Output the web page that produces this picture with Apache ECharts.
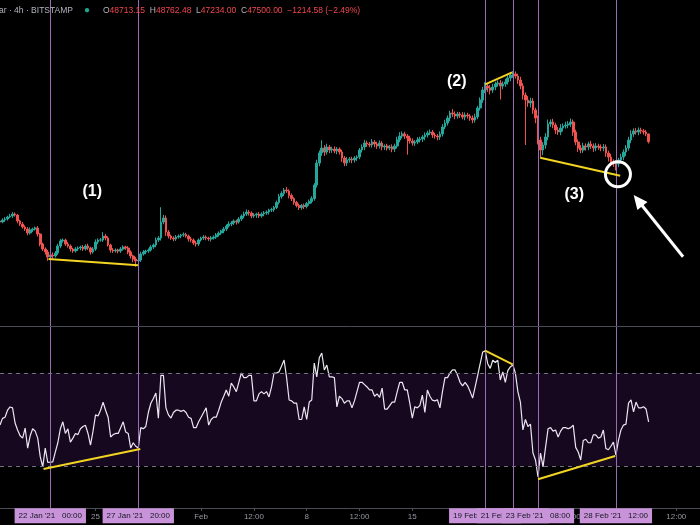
<!DOCTYPE html>
<html><head><meta charset="utf-8">
<script src="https://cdn.jsdelivr.net/npm/echarts@6/dist/echarts.min.js"></script>
<style>html,body{margin:0;padding:0;background:#000;}#c{width:700px;height:525px;}</style>
</head><body><div id="c"></div>
<script>
// ---- data (4h BTC/USD candles) ----
const firstOpen = 35180;
const closes = [
35025,35336,35492,35803,35958,36269,36114,35181,34714,34248,
33937,33315,33781,33937,34092,33159,31604,30827,30360,29583,
29894,29738,30205,31293,32071,32226,31604,31293,30827,30516,
30827,30982,31138,30827,31293,30982,30360,30827,31915,32226,
32226,32848,32537,31449,30671,30516,30671,30516,30827,31138,
30982,30360,29738,29272,28961,29116,30049,30360,30516,30671,
31138,31449,32226,32537,35025,35647,33470,32848,32537,32382,
32693,32848,33004,33100,32848,32382,32226,31760,31604,32226,
32537,32693,32537,32382,32537,32693,33004,33315,33626,33937,
34403,34714,34870,35181,35025,35492,35958,36269,36580,36425,
35958,36114,36269,35958,36269,36425,36580,36891,36950,37282,
38059,38992,39459,40001,39846,39148,38681,38059,37593,37282,
37593,37437,37904,38215,38681,40779,44200,45755,46532,45910,
46688,46221,46377,46066,46377,45910,44977,44200,44666,44822,
44666,44977,45133,46221,46688,47310,47154,46999,47465,47154,
46843,47310,46688,46843,46532,46688,46377,46843,47776,48398,
48709,48398,48087,47621,47310,47465,47776,47932,48243,48554,
48865,49020,48554,48398,48243,48709,49798,50420,51197,51975,
51819,51508,51819,51664,51353,51664,51508,51197,50886,51353,
52752,53996,55551,56173,55862,55551,56018,56484,56640,56173,
56484,56795,57417,57884,58039,57728,57106,56173,54774,53996,
53530,53841,52441,51197,47776,46221,46999,48243,50264,50575,
50109,49331,49020,49642,49953,50109,50264,50575,49020,47465,
46532,46221,46843,46688,47154,46843,46532,46843,46688,46532,
46688,45755,45133,44355,44200,44044,44666,45133,45910,46532,
47776,48709,49176,49020,49331,49180,49020,48713,47500];
const wickUp = [
200,250,300,200,350,300,250,150,200,300,
250,300,400,200,250,300,150,200,250,300,
250,400,300,350,300,250,200,300,250,200,
300,250,200,300,250,350,200,300,400,250,
300,600,300,250,200,300,250,200,300,250,
200,300,250,200,300,250,350,300,200,250,
300,250,400,300,2300,500,400,300,200,250,
300,250,200,300,250,200,300,250,300,250,
200,300,250,200,300,250,300,250,200,300,
250,400,300,250,200,300,250,350,400,300,
250,300,200,300,250,300,250,200,300,250,
300,400,350,300,450,250,300,200,250,300,
250,300,250,300,350,300,500,400,1200,450,
500,300,350,400,300,250,350,300,450,300,
350,300,250,300,400,500,350,300,450,300,
350,400,300,250,350,300,400,350,500,600,
400,350,300,350,400,300,450,350,300,400,
350,400,300,350,300,400,450,500,400,350,
600,400,350,300,450,400,350,300,400,500,
350,400,500,600,400,450,500,350,400,450,
400,500,450,350,470,400,350,500,450,400,
600,500,450,350,400,500,450,600,700,400,
500,350,450,600,400,500,450,550,400,350,
400,450,500,400,350,500,400,450,350,400,
450,400,350,500,400,450,350,500,400,450,
500,600,400,450,400,350,300,300,49];
const wickDown = [
250,200,300,250,200,300,250,350,300,250,
300,350,250,300,250,400,350,300,400,600,
300,350,250,300,350,250,300,250,400,300,
250,300,350,300,250,300,400,250,300,350,
250,300,350,250,400,300,250,350,300,250,
300,350,400,500,900,400,300,250,350,300,
250,300,350,300,400,350,600,400,300,350,
300,250,350,300,250,400,350,300,400,300,
250,300,350,300,400,250,300,250,300,350,
300,250,350,300,400,250,300,350,300,400,
350,300,450,300,250,350,300,400,300,350,
250,300,350,400,300,450,400,350,300,400,
350,400,300,350,300,350,400,500,450,600,
400,500,450,350,500,400,600,500,450,400,
500,400,450,350,400,500,450,350,400,500,
450,400,500,450,400,350,500,450,400,350,
400,450,2600,400,400,450,350,400,450,500,
400,350,450,400,500,450,400,350,400,500,
450,500,400,450,350,500,400,450,500,400,
350,400,450,500,600,700,450,500,400,2100,
500,450,400,500,450,400,600,500,700,7000,
600,700,600,800,700,1200,800,600,500,450,
500,600,450,500,550,400,500,450,600,500,
600,500,450,550,500,450,600,500,450,500,
500,600,700,550,600,1000,500,450,500,600,
400,500,450,400,500,450,400,350,266];
const rsi = [
47.6,50.5,51,54,55.4,55,48.5,45.5,43,42,
46.3,37.7,43,46,45,42,34,29.6,37.7,31.5,
31.7,31.8,36,40,46,49,44,46,40.3,42,
44,43.5,46,47,47.5,44,39,45,52,51.5,
54,57.5,54,51,42.5,43.5,44,44,46.5,49,
44.6,44,37.7,40,38.5,37.7,46.5,46,47,53,
57,59,61.4,50.6,69,69,55,52,50.6,53,
54,54,53.5,54,53,51,50.5,46.5,46.5,49,
51,53,55,47.6,50,51,51,54,57.5,60,
62.7,60,65.7,64,62,66,70,68,68,69,
69,58,58,61,62,61,62,59.7,64,70,
70,70.5,73,75.6,68,58.4,58,57,57,50,
50,55.4,50,57.5,58.4,74.3,68.3,76.5,78.6,71.3,
73.4,68.3,68.3,68,55.4,60,59,57,58,58,
55,58,62,66,66,65,64,62.7,62.7,60,
61,59.5,63.5,54.5,54.5,56,57.5,57.5,62,66,
66,62.7,62.7,57,50.6,55.5,55,56,60.5,53,
62.7,60,58.3,58,58.5,55,62,68,68,70,
71.3,71.3,69,66,64.5,66,64.5,62,59.2,64,
69,74,79,79.5,74,72,75.5,74.5,75.5,67,
70.5,66,71,72.6,73.5,70,62,57.5,45.5,50,
47,48,35.6,32.6,25.3,35.6,29.6,38,46,46.5,
45,45.5,42.5,45,46.5,46.5,46,46.5,47.6,38,
36,32.6,41,41.5,40,40,43.4,43.4,42,42.5,
45.5,37.5,37,38.5,40.3,34.7,41,45.5,47.6,48,
57,58.4,53.3,57.5,55,55,55.5,54.5,49];
const rsiBand = [30, 70];
const nSlots = 280;               // 4h slots on the time axis
const startTime = Date.UTC(2021, 0, 18, 16);
const tickIdx = [38, 80, 101, 122, 143, 164, 185, 206, 227, 248, 269];
const tickLabels = ['25', 'Feb', '12:00', '8', '12:00', '15', '12:00', '22', '12:00', 'Mar', '12:00'];
const vLineIdx = [20, 55, 193, 204, 214, 245];
const vLineLabels = ["22 Jan '21   00:00", "27 Jan '21   20:00", "19 Feb '21   20:00", "21 Feb '21   16:00", "23 Feb '21   08:00", "28 Feb '21   12:00"];
const trendMain = [[19.3, 29272, 54.9, 28292], [193.0, 56437, 203.7, 58304], [214.9, 45024, 246.7, 42225]];
const trendRsi = [[17.3, 28.7, 55.8, 37.3], [193.0, 79.6, 203.9, 73.7], [214.0, 24.3, 244.7, 34.3]];
const notes = [[36.7, 39690, '(1)'], [181.7, 56795, '(2)'], [228.4, 39301, '(3)']];
const circlePt = [245.8, 42442];
const arrowSeg = [271.7, 29629, 253.8, 38368];
const headerSymbol = 'ar · 4h · BITSTAMP';
const headerOHLC = [48713.15, 48762.48, 47234.00, 47500.00];
const headerChange = [-1214.58, -2.49];

// ---- build ----
const cats = [];
for (let k = 0; k < nSlots; k++) {
  const d = new Date(startTime + k * 4 * 3600 * 1000);
  cats.push(d.toISOString().slice(0, 16));
}
const candles = closes.map((c, i) => {
  const o = i === 0 ? firstOpen : closes[i - 1];
  return [o, c, Math.min(o, c) - wickDown[i], Math.max(o, c) + wickUp[i]];
});
const tickMap = {};
tickIdx.forEach((t, i) => { tickMap[t] = tickLabels[i]; });
const isTick = (i) => tickMap[i] !== undefined;

const FONT = 'Liberation Sans, Arial, sans-serif';
const vColor = '#9a6db3';
const yellow = '#f2d422';
const vLines = vLineIdx.map(x => ({ xAxis: x, lineStyle: { color: vColor, width: 1, type: 'solid' } }));
const seg = (t) => [{ coord: [t[0], t[1]], lineStyle: { color: yellow, width: 2, type: 'solid' } }, { coord: [t[2], t[3]] }];

const m = (v) => '\u2212' + Math.abs(v).toFixed(2);
const headerRich = '{g|O}{r|' + headerOHLC[0].toFixed(2) + '}  {g|H}{r|' + headerOHLC[1].toFixed(2) +
  '}  {g|L}{r|' + headerOHLC[2].toFixed(2) + '}  {g|C}{r|' + headerOHLC[3].toFixed(2) +
  '}  {r|' + m(headerChange[0]) + ' (' + m(headerChange[1]) + '%)}';

const W = (nSlots - 1) * 2.514;
const gridBase = { left: 0, width: W, containLabel: false, outerBoundsMode: 'none' };
const clear = { color: 'rgba(0,0,0,0)', opacity: 1 };

const option = {
  animation: false,
  backgroundColor: '#000',
  title: [
    { text: headerSymbol, left: -1, top: 6, padding: 0, textStyle: { color: '#b2b5be', fontSize: 8.5, fontWeight: 'normal', fontFamily: FONT } },
    { text: '\u25CF', left: 84, top: 5, padding: 0, textStyle: { color: '#1fa58e', fontSize: 10, fontWeight: 'normal' } },
    { text: headerRich, left: 103, top: 6, padding: 0, textStyle: { fontSize: 8.5, fontWeight: 'normal', fontFamily: FONT, color: '#b2b5be',
      rich: { g: { color: '#b2b5be', fontSize: 8.5, fontFamily: FONT }, r: { color: '#f0474f', fontSize: 8.5, fontFamily: FONT } } } }
  ],
  grid: [
    Object.assign({ top: 0, height: 326 }, gridBase),
    Object.assign({ top: 327, height: 181 }, gridBase),
    Object.assign({ top: 508, height: 17 }, gridBase)
  ],
  xAxis: [
    { type: 'category', gridIndex: 0, data: cats, boundaryGap: false,
      axisLine: { show: true, lineStyle: { color: '#4a4d57', width: 1 } }, axisTick: { show: false }, axisLabel: { show: false }, splitLine: { show: false } },
    { type: 'category', gridIndex: 1, data: cats, boundaryGap: false,
      axisLine: { show: true, lineStyle: { color: '#4a4d57', width: 1 } },
      axisTick: { show: true, interval: isTick, length: 3, lineStyle: { color: '#4a4d57' } },
      axisLabel: { show: true, interval: isTick, formatter: (v, i) => tickMap[i] || '', color: '#9598a1', fontSize: 8, margin: 5, fontFamily: FONT },
      splitLine: { show: false } },
    { type: 'value', gridIndex: 0, min: 0, max: nSlots - 1, show: false },
    { type: 'value', gridIndex: 1, min: 0, max: nSlots - 1, show: false },
    { type: 'value', gridIndex: 2, min: 0, max: nSlots - 1, show: false }
  ],
  yAxis: [
    { type: 'value', gridIndex: 0, min: 18853, max: 69546, show: false },
    { type: 'value', gridIndex: 1, min: 11.94, max: 89.78, show: false },
    { type: 'value', gridIndex: 2, min: 0, max: 1, show: false }
  ],
  series: [
    { type: 'candlestick', name: 'BTCUSD', xAxisIndex: 0, yAxisIndex: 0, data: candles, barWidth: 2.2, z: 2,
      itemStyle: { color: '#26a69a', color0: '#ef5350', borderColor: '#26a69a', borderColor0: '#ef5350', borderWidth: 1, opacity: 1 } },
    { type: 'line', name: 'band', xAxisIndex: 3, yAxisIndex: 1, data: [], z: 1, silent: true,
      markArea: { silent: true, itemStyle: { color: '#16081f', opacity: 1 }, data: [[{ yAxis: rsiBand[0] }, { yAxis: rsiBand[1] }]] },
      markLine: { silent: true, symbol: ['none', 'none'], label: { show: false },
        data: rsiBand.map(v => ({ yAxis: v, lineStyle: { color: '#6f717c', width: 1, type: [4, 4] } })) } },
    { type: 'line', name: 'RSI', xAxisIndex: 3, yAxisIndex: 1, z: 3, showSymbol: false, silent: true,
      data: rsi.map((v, i) => [i, v]), lineStyle: { color: '#ece6f4', width: 1.2 },
      markLine: { silent: true, symbol: ['none', 'none'], label: { show: false },
        data: vLines.concat(trendRsi.map(seg)) } },
    { type: 'scatter', name: 'notes', xAxisIndex: 2, yAxisIndex: 0, z: 4, silent: true, symbolSize: 1,
      itemStyle: clear,
      data: notes.map(n => ({ value: [n[0], n[1]], label: { formatter: n[2] } })),
      label: { show: true, position: 'inside', color: '#ffffff', opacity: 1, fontSize: 16, fontWeight: 'bold', fontFamily: FONT },
      markLine: { silent: true, symbol: ['none', 'none'], label: { show: false },
        data: vLines.concat(trendMain.map(seg)) } },
    { type: 'scatter', name: 'circle', xAxisIndex: 2, yAxisIndex: 0, z: 5, silent: true, symbol: 'circle', symbolSize: 25,
      itemStyle: { color: 'rgba(0,0,0,0)', borderColor: '#ffffff', borderWidth: 3, opacity: 1 }, data: [circlePt] },
    { type: 'line', name: 'arrow', xAxisIndex: 2, yAxisIndex: 0, z: 5, data: [], silent: true,
      markLine: { silent: true, symbol: ['none', 'triangle'], symbolSize: [13, 14], label: { show: false },
        lineStyle: { color: '#ffffff', width: 3, type: 'solid', opacity: 1 },
        data: [[{ coord: [arrowSeg[0], arrowSeg[1]] }, { coord: [arrowSeg[2], arrowSeg[3]] }]] } },
    { type: 'scatter', name: 'lineDates', xAxisIndex: 4, yAxisIndex: 2, z: 6, silent: true, symbolSize: 1, clip: false,
      itemStyle: clear,
      data: vLineIdx.map((x, i) => ({ value: [x, 0.55], label: { formatter: vLineLabels[i] } })),
      label: { show: true, position: 'inside', opacity: 1, backgroundColor: '#c993d9', color: '#131722', fontSize: 8, fontFamily: FONT, padding: [4, 4, 3, 4] } }
  ]
};
const chart = echarts.init(document.getElementById('c'), null, { renderer: 'canvas' });
chart.setOption(option);
</script></body></html>
